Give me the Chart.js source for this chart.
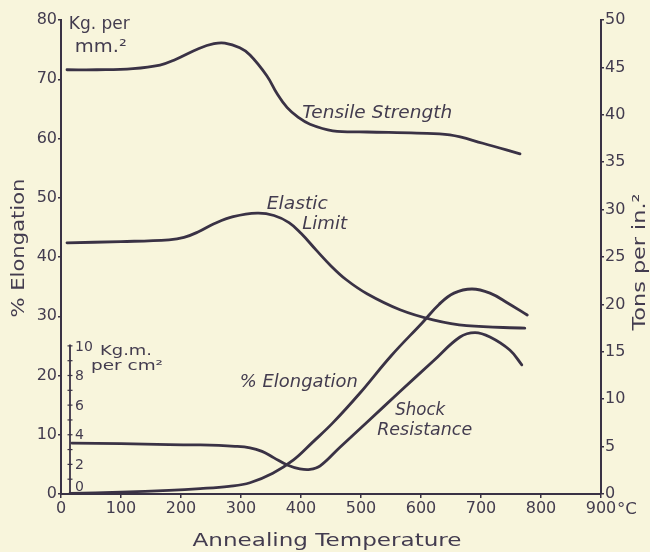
<!DOCTYPE html>
<html><head><meta charset="utf-8">
<script src="https://cdn.jsdelivr.net/npm/chart.js@4/dist/chart.umd.min.js"></script>
<style>html,body{margin:0;padding:0;background:#f8f5dc;}canvas{display:block;}</style>
</head><body>
<canvas id="c" width="650" height="552"></canvas>
<script>
// ---- tick labels ----
const xTickValues = [0,100,200,300,400,500,600,700,800,900];
const kgTickValues = [0,10,20,30,40,50,60,70,80];
const tonsTickValues = [0,5,10,15,20,25,30,35,40,45,50];
const shockTickValues = [0,1,2,3,4,5,6,7,8,9,10];
const shockTickLabels = ['0','','2','','4','','6','','8','','10'];

// ---- series (annealing temperature °C -> value) ----
const tensileTemp = [10, 60, 120, 165, 190, 230, 255, 273, 298, 315, 343, 360, 377, 395, 415, 453, 510, 593, 648, 703, 765];
const tensileKg   = [71.6, 71.6, 71.8, 72.4, 73.3, 75.2, 76.0, 76.1, 75.3, 74.1, 70.6, 67.6, 65.2, 63.6, 62.4, 61.3, 61.1, 60.9, 60.6, 59.2, 57.4];

const elasticTemp = [10, 100, 180, 205, 230, 255, 287, 327, 355, 380, 400, 425, 450, 475, 510, 565, 620, 676, 773];
const elasticKg   = [42.4, 42.6, 42.9, 43.3, 44.3, 45.6, 46.8, 47.4, 47.0, 45.8, 44.0, 41.2, 38.5, 36.2, 33.8, 31.1, 29.4, 28.4, 28.0];

const elongTemp = [15, 100, 180, 232, 280, 315, 353, 387, 420, 453, 498, 550, 603, 630, 655, 685, 715, 745, 777];
const elongPct  = [0.1, 0.3, 0.6, 0.9, 1.3, 1.9, 3.5, 5.7, 8.8, 12.0, 17.0, 23.3, 29.0, 32.0, 33.9, 34.6, 33.9, 32.2, 30.2];

const shockTemp = [18, 100, 180, 232, 290, 315, 335, 355, 377, 398, 415, 432, 465, 510, 565, 620, 665, 690, 715, 748, 768];
const shockKgm  = [3.44, 3.40, 3.33, 3.31, 3.22, 3.12, 2.88, 2.44, 1.96, 1.70, 1.66, 1.90, 3.16, 4.84, 6.92, 8.96, 10.6, 10.9, 10.6, 9.72, 8.72];

const INK = '#3a3245';
const TXT = '#433c4f';

const pts = (xs, ys) => xs.map((x, i) => ({x, y: ys[i]}));
const ds = (label, xs, ys, axis) => ({
  label, data: pts(xs, ys), yAxisID: axis, borderColor: INK, borderWidth: 2.8,
  pointRadius: 0, fill: false, tension: 0.4, borderCapStyle: 'round'
});

function fitText(ctx, text, x, y, w, font, align) {
  ctx.save();
  ctx.font = font;
  const m = ctx.measureText(text).width;
  ctx.translate(x, y);
  ctx.scale(w / m, 1);
  ctx.textAlign = align || 'left';
  ctx.fillText(text, 0, 0);
  ctx.restore();
}

const overlay = {
  id: 'overlay',
  afterDraw(chart) {
    const ctx = chart.ctx;
    const X = chart.scales.x, K = chart.scales.yL, S = chart.scales.yS;
    ctx.save();
    ctx.fillStyle = TXT;
    ctx.strokeStyle = INK;
    ctx.textBaseline = 'alphabetic';

    // shock resistance axis
    const sx = X.getPixelForValue(15);
    ctx.lineWidth = 1.8;
    ctx.beginPath();
    ctx.moveTo(sx, S.getPixelForValue(0));
    ctx.lineTo(sx, S.getPixelForValue(10.1));
    ctx.stroke();
    ctx.lineWidth = 1.2;
    ctx.font = '14px "DejaVu Sans"';
    ctx.textAlign = 'left';
    ctx.textBaseline = 'middle';
    shockTickValues.forEach((v, i) => {
      const y = S.getPixelForValue(v);
      ctx.beginPath();
      ctx.moveTo(sx - 2.5, y); ctx.lineTo(sx + 2.5, y);
      ctx.stroke();
      const lab = shockTickLabels[i];
      if (lab) ctx.fillText(lab, sx + 5, v === 0 ? y - 7 : y + 1);
    });
    ctx.textBaseline = 'alphabetic';
    fitText(ctx, 'Kg.m.', X.getPixelForValue(65), S.getPixelForValue(10) + 9, 52, '14px "DejaVu Sans"');
    fitText(ctx, 'per cm\u00B2', X.getPixelForValue(50), S.getPixelForValue(10) + 24, 72, '14px "DejaVu Sans"');

    // unit labels
    fitText(ctx, 'Kg. per', X.getPixelForValue(13), K.getPixelForValue(78.5), 61, '17px "DejaVu Sans"');
    fitText(ctx, 'mm.\u00B2', X.getPixelForValue(23), K.getPixelForValue(74.6), 52, '17px "DejaVu Sans"');

    // curve annotations
    const it = 'italic 17px "DejaVu Sans"';
    fitText(ctx, 'Tensile Strength', X.getPixelForValue(402), K.getPixelForValue(63.5), 150, it);
    fitText(ctx, 'Elastic', X.getPixelForValue(343), K.getPixelForValue(48.1), 61, it);
    fitText(ctx, 'Limit', X.getPixelForValue(402), K.getPixelForValue(44.7), 45, it);
    fitText(ctx, '% Elongation', X.getPixelForValue(298), K.getPixelForValue(18.0), 118, it);
    fitText(ctx, 'Shock', X.getPixelForValue(557), K.getPixelForValue(13.3), 50, it);
    fitText(ctx, 'Resistance', X.getPixelForValue(527), K.getPixelForValue(10.0), 95, it);

    // axis titles
    const tf = '17px "DejaVu Sans"';
    ctx.save();
    ctx.translate(24, 248);
    ctx.rotate(-Math.PI / 2);
    fitText(ctx, '% Elongation', 0, 0, 139, tf, 'center');
    ctx.restore();
    ctx.save();
    ctx.translate(645, 262);
    ctx.rotate(-Math.PI / 2);
    fitText(ctx, 'Tons per in.\u00B2', 0, 0, 137, tf, 'center');
    ctx.restore();
    fitText(ctx, 'Annealing Temperature', 327, 546, 269, '18px "DejaVu Sans"', 'center');
    fitText(ctx, '\u00B0C', X.getPixelForValue(900) + 16, 514, 20, '16px "DejaVu Sans"');
    ctx.restore();
  }
};

const tickFont = {family: 'DejaVu Sans', size: 16};
const axisBase = {
  grid: {drawOnChartArea: false, drawTicks: true, tickLength: 3, color: INK, lineWidth: 1.5},
  border: {display: true, color: INK, width: 2}
};

new Chart(document.getElementById('c'), {
  type: 'line',
  data: {
    datasets: [
      ds('Tensile Strength', tensileTemp, tensileKg, 'yL'),
      ds('Elastic Limit', elasticTemp, elasticKg, 'yL'),
      ds('% Elongation', elongTemp, elongPct, 'yL'),
      ds('Shock Resistance', shockTemp, shockKgm, 'yS')
    ]
  },
  options: {
    responsive: false,
    animation: false,
    layout: {padding: {top: 20, left: 0, right: 0, bottom: 0}},
    plugins: {legend: {display: false}, tooltip: {enabled: false}},
    scales: {
      x: Object.assign({}, axisBase, {
        type: 'linear', position: 'bottom', min: 0, max: 900,
        afterBuildTicks: s => { s.ticks = xTickValues.map(v => ({value: v})); },
        afterFit: s => { s.height = 58; },
        grid: Object.assign({}, axisBase.grid, {tickLength: 4}),
        ticks: {font: tickFont, color: TXT, padding: 1, maxRotation: 0, autoSkip: false}
      }),
      yL: Object.assign({}, axisBase, {
        type: 'linear', position: 'left', min: 0, max: 80,
        afterBuildTicks: s => { s.ticks = kgTickValues.map(v => ({value: v})); },
        afterFit: s => { s.width = 61; },
        ticks: {font: tickFont, color: TXT, padding: 1}
      }),
      yR: Object.assign({}, axisBase, {
        type: 'linear', position: 'right', min: 0, max: 50,
        afterBuildTicks: s => { s.ticks = tonsTickValues.map(v => ({value: v})); },
        afterFit: s => { s.width = 49; },
        ticks: {font: tickFont, color: TXT, padding: 1}
      }),
      yS: {type: 'linear', display: false, min: 0, max: 32}
    }
  },
  plugins: [overlay]
});
</script>
</body></html>
